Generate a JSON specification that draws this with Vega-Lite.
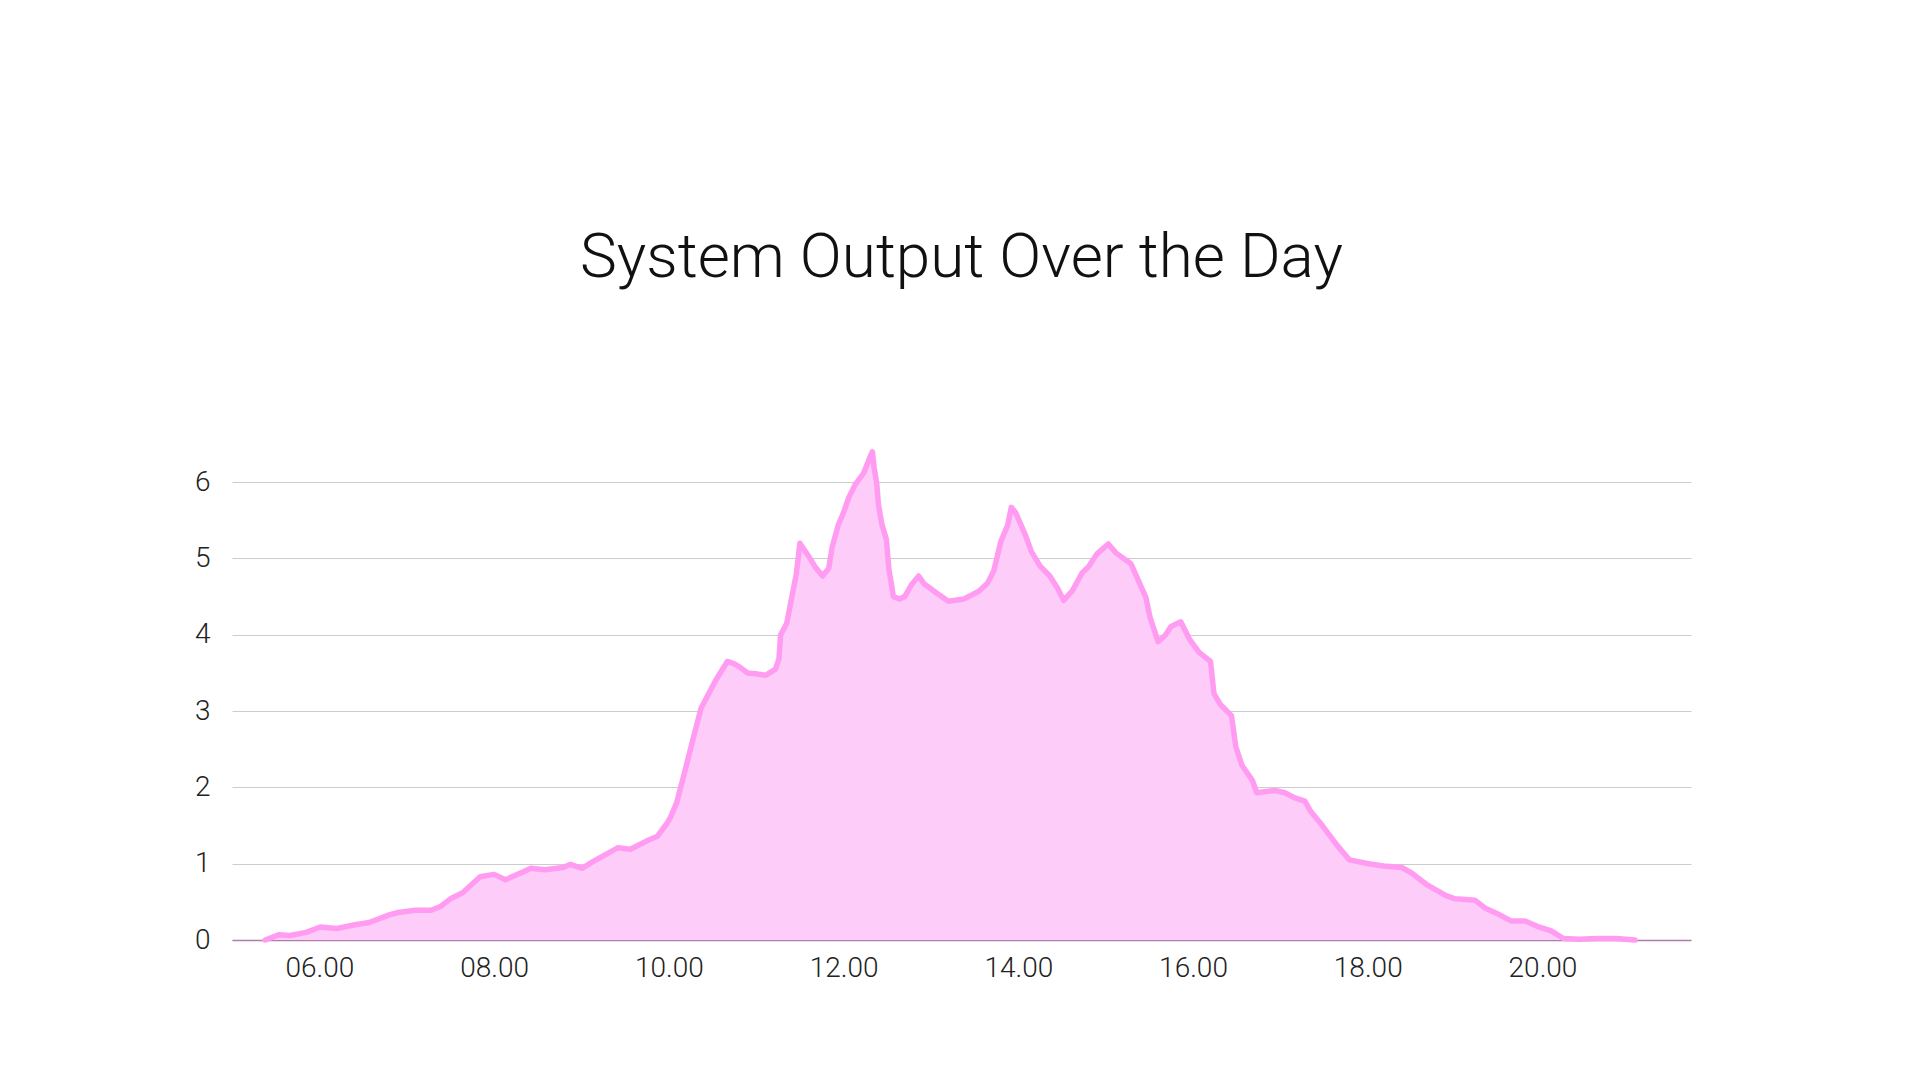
{
  "$schema": "https://vega.github.io/schema/vega-lite/v6.json",
  "autosize": "none",
  "padding": {"left": 232, "top": 444, "right": 229, "bottom": 140},
  "width": 1459,
  "height": 496,
  "background": "white",
  "title": {
    "text": "System Output Over the Day",
    "font": "Roboto",
    "fontWeight": 300,
    "fontSize": 62,
    "color": "#111111",
    "anchor": "middle",
    "offset": 154
  },
  "data": {
    "values": [
      {"hour": 5.38, "output": 0.0},
      {"hour": 5.54, "output": 0.07},
      {"hour": 5.66, "output": 0.06},
      {"hour": 5.85, "output": 0.1},
      {"hour": 6.01, "output": 0.17},
      {"hour": 6.2, "output": 0.15},
      {"hour": 6.41, "output": 0.2},
      {"hour": 6.57, "output": 0.23},
      {"hour": 6.8, "output": 0.33},
      {"hour": 6.9, "output": 0.36},
      {"hour": 7.1, "output": 0.39},
      {"hour": 7.28, "output": 0.39},
      {"hour": 7.39, "output": 0.44},
      {"hour": 7.5, "output": 0.54},
      {"hour": 7.64, "output": 0.62},
      {"hour": 7.84, "output": 0.83},
      {"hour": 8.0, "output": 0.86},
      {"hour": 8.13, "output": 0.79},
      {"hour": 8.33, "output": 0.89},
      {"hour": 8.42, "output": 0.94},
      {"hour": 8.58, "output": 0.92},
      {"hour": 8.79, "output": 0.95},
      {"hour": 8.87, "output": 0.99},
      {"hour": 9.01, "output": 0.94},
      {"hour": 9.12, "output": 1.02},
      {"hour": 9.42, "output": 1.21},
      {"hour": 9.56, "output": 1.19},
      {"hour": 9.77, "output": 1.31},
      {"hour": 9.87, "output": 1.36},
      {"hour": 9.98, "output": 1.53},
      {"hour": 10.02, "output": 1.61},
      {"hour": 10.09, "output": 1.8},
      {"hour": 10.19, "output": 2.24},
      {"hour": 10.29, "output": 2.69},
      {"hour": 10.37, "output": 3.04},
      {"hour": 10.54, "output": 3.41},
      {"hour": 10.67, "output": 3.65},
      {"hour": 10.75, "output": 3.62},
      {"hour": 10.82, "output": 3.57},
      {"hour": 10.9, "output": 3.5},
      {"hour": 10.99, "output": 3.49},
      {"hour": 11.11, "output": 3.47},
      {"hour": 11.22, "output": 3.55},
      {"hour": 11.26, "output": 3.68},
      {"hour": 11.28, "output": 4.0},
      {"hour": 11.35, "output": 4.15},
      {"hour": 11.4, "output": 4.45},
      {"hour": 11.46, "output": 4.8},
      {"hour": 11.5, "output": 5.2},
      {"hour": 11.6, "output": 5.03},
      {"hour": 11.68, "output": 4.88},
      {"hour": 11.76, "output": 4.77},
      {"hour": 11.83, "output": 4.87},
      {"hour": 11.87, "output": 5.15},
      {"hour": 11.94, "output": 5.44},
      {"hour": 12.0, "output": 5.6},
      {"hour": 12.06, "output": 5.8},
      {"hour": 12.13, "output": 5.96},
      {"hour": 12.23, "output": 6.12},
      {"hour": 12.31, "output": 6.35},
      {"hour": 12.33, "output": 6.4},
      {"hour": 12.35, "output": 6.19},
      {"hour": 12.38, "output": 5.98},
      {"hour": 12.4, "output": 5.7},
      {"hour": 12.44, "output": 5.44},
      {"hour": 12.49, "output": 5.25},
      {"hour": 12.52, "output": 4.85},
      {"hour": 12.55, "output": 4.65},
      {"hour": 12.57, "output": 4.5},
      {"hour": 12.64, "output": 4.47},
      {"hour": 12.7, "output": 4.5},
      {"hour": 12.78, "output": 4.66},
      {"hour": 12.86, "output": 4.77},
      {"hour": 12.92, "output": 4.67},
      {"hour": 13.06, "output": 4.55},
      {"hour": 13.2, "output": 4.44},
      {"hour": 13.38, "output": 4.47},
      {"hour": 13.55, "output": 4.57},
      {"hour": 13.65, "output": 4.68},
      {"hour": 13.72, "output": 4.84},
      {"hour": 13.8, "output": 5.22},
      {"hour": 13.88, "output": 5.44},
      {"hour": 13.92, "output": 5.67},
      {"hour": 13.97, "output": 5.6},
      {"hour": 14.08, "output": 5.31},
      {"hour": 14.15, "output": 5.09},
      {"hour": 14.25, "output": 4.9},
      {"hour": 14.36, "output": 4.77},
      {"hour": 14.45, "output": 4.61},
      {"hour": 14.52, "output": 4.45},
      {"hour": 14.62, "output": 4.58},
      {"hour": 14.73, "output": 4.81},
      {"hour": 14.81, "output": 4.9},
      {"hour": 14.9, "output": 5.06},
      {"hour": 15.03, "output": 5.19},
      {"hour": 15.12, "output": 5.07},
      {"hour": 15.29, "output": 4.93},
      {"hour": 15.46, "output": 4.49},
      {"hour": 15.51, "output": 4.22},
      {"hour": 15.6, "output": 3.91},
      {"hour": 15.68, "output": 3.99},
      {"hour": 15.75, "output": 4.11},
      {"hour": 15.86, "output": 4.17},
      {"hour": 15.96, "output": 3.94},
      {"hour": 16.07, "output": 3.77},
      {"hour": 16.2, "output": 3.65},
      {"hour": 16.24, "output": 3.23},
      {"hour": 16.31, "output": 3.09},
      {"hour": 16.44, "output": 2.94},
      {"hour": 16.49, "output": 2.53},
      {"hour": 16.56, "output": 2.29},
      {"hour": 16.68, "output": 2.09},
      {"hour": 16.73, "output": 1.93},
      {"hour": 16.94, "output": 1.96},
      {"hour": 17.05, "output": 1.93},
      {"hour": 17.15, "output": 1.87},
      {"hour": 17.28, "output": 1.82},
      {"hour": 17.35, "output": 1.68},
      {"hour": 17.48, "output": 1.5},
      {"hour": 17.65, "output": 1.24},
      {"hour": 17.79, "output": 1.05},
      {"hour": 18.01, "output": 1.0},
      {"hour": 18.18, "output": 0.97},
      {"hour": 18.39, "output": 0.95},
      {"hour": 18.5, "output": 0.88},
      {"hour": 18.67, "output": 0.73},
      {"hour": 18.88, "output": 0.59},
      {"hour": 19.0, "output": 0.54},
      {"hour": 19.23, "output": 0.52},
      {"hour": 19.34, "output": 0.42},
      {"hour": 19.51, "output": 0.33},
      {"hour": 19.64, "output": 0.25},
      {"hour": 19.8, "output": 0.25},
      {"hour": 19.94, "output": 0.18},
      {"hour": 20.1, "output": 0.12},
      {"hour": 20.24, "output": 0.02},
      {"hour": 20.42, "output": 0.01},
      {"hour": 20.63, "output": 0.02},
      {"hour": 20.84, "output": 0.02},
      {"hour": 21.06, "output": 0.0}
    ]
  },
  "encoding": {
    "x": {
      "field": "hour",
      "type": "quantitative",
      "scale": {"domain": [5, 21.7], "nice": false, "zero": false},
      "axis": {
        "title": null,
        "values": [6, 8, 10, 12, 14, 16, 18, 20],
        "labelExpr": "format(datum.value, '02d') + '.00'",
        "grid": false,
        "ticks": false,
        "domainColor": "#b07cb0",
        "domainWidth": 1.5,
        "labelPadding": 14
      }
    },
    "y": {
      "field": "output",
      "type": "quantitative",
      "scale": {"domain": [0, 6.5], "nice": false},
      "axis": {
        "title": null,
        "values": [0, 1, 2, 3, 4, 5, 6],
        "domain": false,
        "ticks": false,
        "gridColor": "#cccccc",
        "gridWidth": 1,
        "labelPadding": 22
      }
    }
  },
  "layer": [
    {"mark": {"type": "area", "color": "#fdccf8", "opacity": 1}},
    {"mark": {"type": "line", "color": "#ff9cf2", "strokeWidth": 5.5, "strokeJoin": "round", "strokeCap": "round"}}
  ],
  "config": {
    "view": {"stroke": null},
    "axis": {
      "labelFont": "Roboto",
      "labelFontWeight": 300,
      "labelFontSize": 28,
      "labelColor": "#222222"
    }
  }
}
